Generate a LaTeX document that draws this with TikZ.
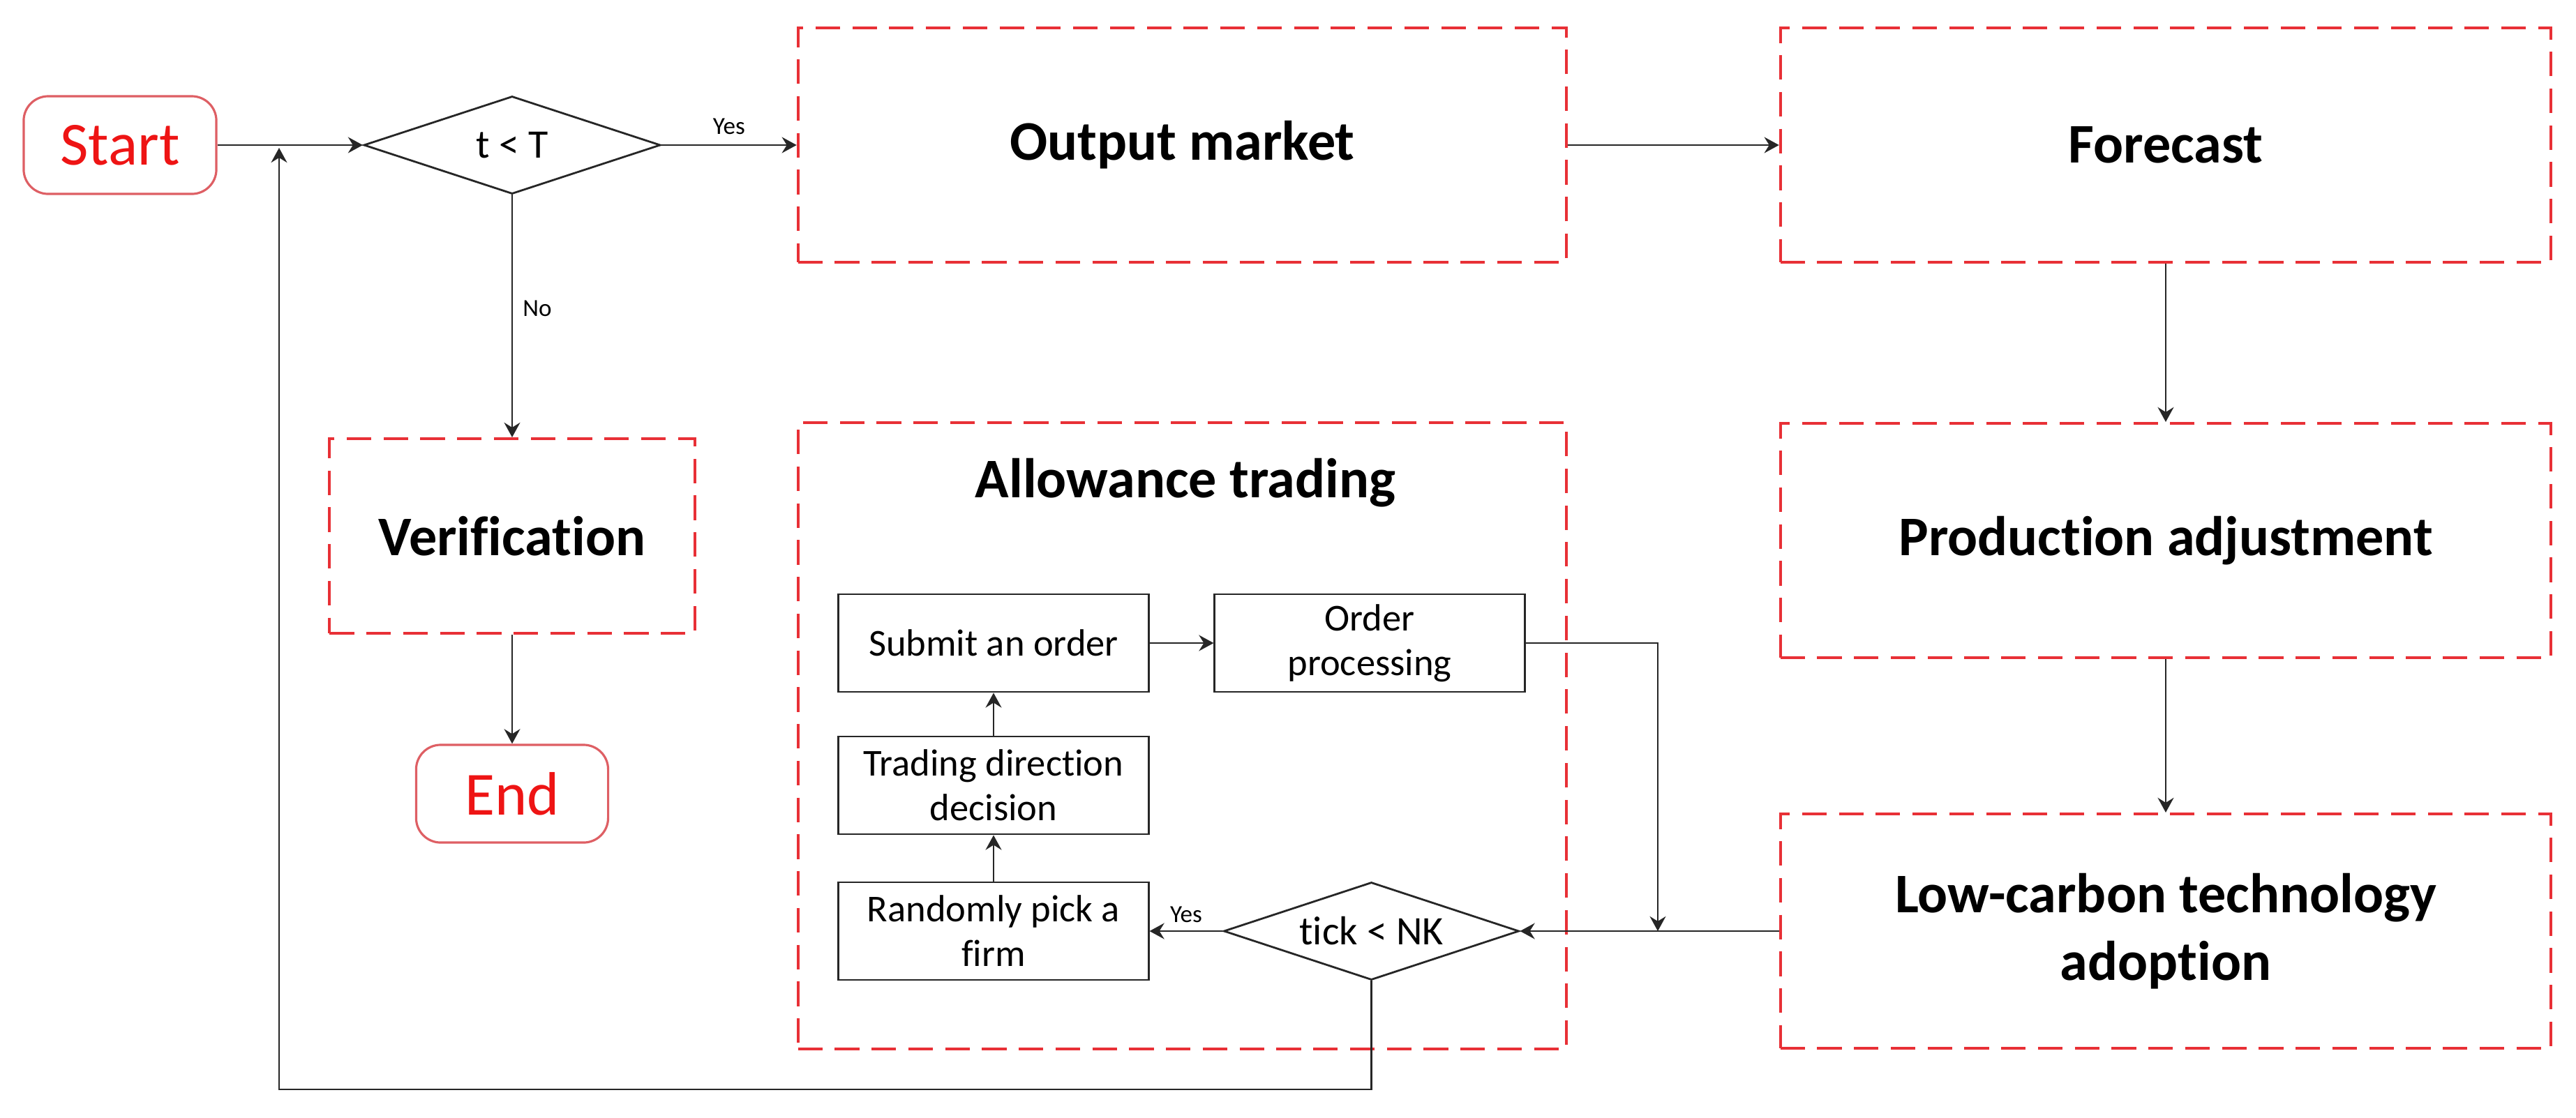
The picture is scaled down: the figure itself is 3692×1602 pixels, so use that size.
\documentclass[tikz,border=0pt]{standalone}
\usepackage{fontspec}
\setmainfont{Carlito}[Ligatures=NoCommon]
\usetikzlibrary{shapes.geometric,arrows.meta}
\definecolor{dashred}{RGB}{232,48,54}
\definecolor{termred}{RGB}{222,95,100}
\definecolor{startred}{RGB}{238,20,20}
\newcommand\myti{t\kern0pt i}
\begin{document}
\begin{tikzpicture}[x=0.01cm,y=-0.01cm,
  redbox/.style={draw=dashred, line width=1.1pt, dash pattern=on 10pt off 5pt,
    font=\fontsize{22.8}{27.5}\selectfont\bfseries, align=center, inner sep=0pt},
  term/.style={draw=termred, line width=0.9pt, rounded corners=10pt, text=startred,
    font=\fontsize{25}{29}\selectfont, minimum width=2.76cm, minimum height=1.40cm},
  smallbox/.style={draw=black!85, line width=0.8pt, minimum width=4.44cm, minimum height=1.40cm,
    align=center, font=\fontsize{15.5}{18.2}\selectfont, inner sep=0pt},
  dec/.style={diamond, draw=black!85, line width=0.8pt, inner sep=0pt, aspect=3.1,
    font=\fontsize{16.5}{20}\selectfont},
  conn/.style={draw=black!85, line width=0.8pt},
  arr/.style={conn, -{Stealth[length=6pt,width=6.5pt,inset=2pt]}},
  lbl/.style={font=\fontsize{10}{12}\selectfont, inner sep=1pt}
]
\useasboundingbox[fill=white] (0,0) rectangle (3692,1602);

% terminals and decisions
\node[term] (start) at (172,208) {Start};
\node[dec, minimum width=4.25cm, minimum height=1.40cm] (d1) at (734,208) {t < T};

% big dashed boxes
\node[redbox, minimum width=11.01cm, minimum height=3.36cm] (out) at (1694.5,208) {Output market};
\node[redbox, minimum width=11.04cm, minimum height=3.36cm] (fc) at (3104,208) {Forecast};
\node[redbox, minimum width=11.04cm, minimum height=3.36cm] (prod) at (3104,775) {Produc\myti on adjustment};
\node[redbox, minimum width=11.04cm, minimum height=3.36cm] (low) at (3104,1335) {Low-carbon technology\\adop\myti on};
\node[redbox, minimum width=11.01cm, minimum height=8.98cm] (allow) at (1694.5,1055) {};
\node[font=\fontsize{22.8}{27.5}\selectfont\bfseries, inner sep=0pt] (title) at (1699,692) {Allowance trading};
\node[redbox, minimum width=5.23cm, minimum height=2.79cm] (ver) at (734,768.5) {Verifica\myti on};
\node[term, minimum width=2.75cm, minimum height=1.40cm] (end) at (734,1138) {End};

% inner flow
\node[smallbox] (so) at (1424,922) {Submit an order};
\node[smallbox] (op) at (1963,922) {Order\\processing};
\node[smallbox] (td) at (1424,1126) {Trading direc\myti on\\decision};
\node[smallbox] (rp) at (1424,1335) {Randomly pick a\\firm};
\node[dec, minimum width=4.23cm, minimum height=1.40cm] (d2) at (1965.5,1335) {tick < NK};

% connectors
\draw[arr] (start.east) -- (d1.west);
\draw[arr] (d1.east) -- (d1.east -| out.west) node[lbl, midway, above, yshift=3pt] {Yes};
\draw[arr] (out.east) -- (fc.west);
\draw[arr] (fc.south) -- (prod.north);
\draw[arr] (prod.south) -- (low.north);
\draw[arr] (low.west) -- (d2.east);
\coordinate (mj) at (2376,1335);
\draw[arr] (op.east) -| (mj);
\draw[arr] (d2.west) -- (rp.east) node[lbl, midway, above, yshift=2pt] {Yes};
\draw[arr] (rp.north) -- (td.south);
\draw[arr] (td.north) -- (so.south);
\draw[arr] (so.east) -- (op.west);
\coordinate (fbl) at (400,1562);
\coordinate (fbend) at (400,212);
\draw[arr] (d2.south) |- (fbl) -- (fbend);
\draw[arr] (d1.south) -- (ver.north) node[lbl, pos=0.47, right, xshift=3pt] {No};
\draw[arr] (ver.south) -- (end.north);
\end{tikzpicture}
\end{document}
